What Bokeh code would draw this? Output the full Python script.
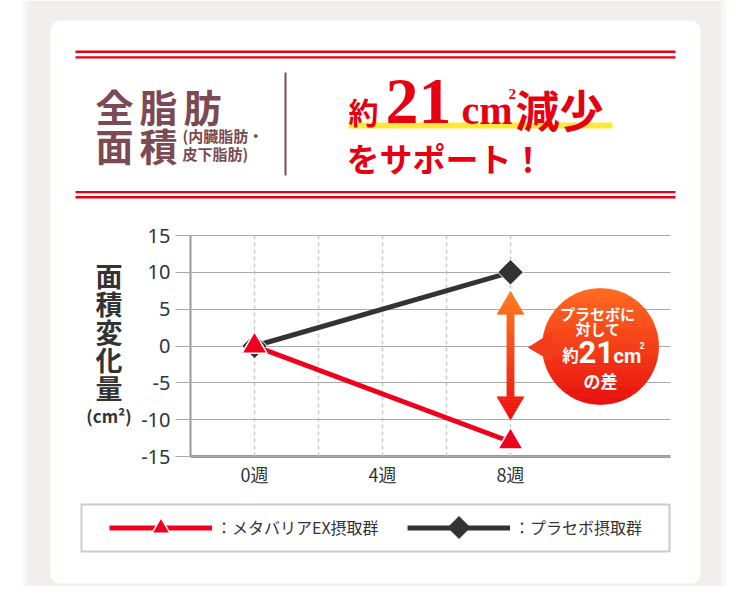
import numpy as np
from bokeh.plotting import figure
from bokeh.models import Range1d, FixedTicker, LinearAxis, Legend, LegendItem, Grid
from bokeh.core.properties import value
from bokeh.embed import file_html
from bokeh.resources import INLINE

# ---------------- data ----------------
weeks = [0, 8]
placebo = [0, 10]
metabarrier = [0, -13]
x_ticks = [0, 4, 8]
x_tick_labels = ["0週", "4週", "8週"]
y_ticks = [-15, -10, -5, 0, 5, 10, 15]
y_tick_labels = ["-15", "-10", "-5", "0", "5", "10", "15"]
series_names = ["：メタバリアEX摂取群", "：プラセボ摂取群"]

# ---------------- style / geometry ----------------
JP = "Noto Sans CJK JP"
RED = "#f0001c"
HRED = "#e60012"
DARK = "#333333"
BROWN = "#7c4a52"
GRAY_BG = "#f2eeeb"

W, H = 734, 586
PX_L, PX_R = 190, 670          # plot area in page pixels
PX_T, PX_B = 235, 456
X_MIN, X_MAX = -2, 13
Y_MIN, Y_MAX = -15, 15
XPX = (PX_R - PX_L) / (X_MAX - X_MIN)
YPX = (PX_B - PX_T) / (Y_MAX - Y_MIN)


def d2x(px):
    return X_MIN + (px - PX_L) / XPX


def d2y(py):
    return Y_MIN + (PX_B - py) / YPX


def hex2rgb(h):
    return tuple(int(h[i:i + 2], 16) for i in (1, 3, 5))


def mix(c0, c1, t):
    a, b = hex2rgb(c0), hex2rgb(c1)
    return "#%02x%02x%02x" % tuple(int(round(a[i] + (b[i] - a[i]) * t)) for i in range(3))


p = figure(width=W, height=H,
           x_range=Range1d(d2x(0), d2x(W)), y_range=Range1d(d2y(H), d2y(0)),
           x_axis_location=None, y_axis_location=None, min_border=0,
           output_backend="svg", toolbar_location=None, title=None)
p.center = [c for c in p.center if not isinstance(c, Grid)]
p.extra_x_ranges = {"px": Range1d(0, W)}
p.extra_y_ranges = {"px": Range1d(H, 0)}
p.outline_line_color = None
p.background_fill_color = "white"
p.border_fill_color = "white"

PXR = dict(x_range_name="px", y_range_name="px")


def pquad(l, r, t, b, color, alpha=1.0, level="glyph"):
    p.quad(left=[l], right=[r], top=[t], bottom=[b], fill_color=color, fill_alpha=alpha,
           line_color=None, level=level, **PXR)


def txt(s, x, y, size, color, font=JP, style="bold", align="left", baseline="middle"):
    p.text(x=[x], y=[y], text=[s], text_font=value(font), text_font_size=value(f"{size}px"),
           text_font_style=style, text_color=color, text_align=align,
           text_baseline=baseline, **PXR)


def rounded_rect(l, r, t, b, rad, n=10):
    xs, ys = [], []
    for cx, cy, a0 in [(r - rad, t + rad, -90), (r - rad, b - rad, 0),
                       (l + rad, b - rad, 90), (l + rad, t + rad, 180)]:
        for a in np.linspace(a0, a0 + 90, n):
            xs.append(cx + rad * np.cos(np.radians(a)))
            ys.append(cy + rad * np.sin(np.radians(a)))
    return xs, ys


# ---------------- page background ----------------
pquad(28, 720, 0, H, GRAY_BG, level="image")
for (l, r, a) in [(22, 25, 0.35), (25, 28, 0.7), (720, 723, 0.7), (723, 726, 0.35)]:
    pquad(l, r, 0, H, GRAY_BG, alpha=a, level="image")
cx_, cy_ = rounded_rect(50, 700, 20, 583, 10)
p.patch(cx_, cy_, fill_color="white", line_color=None, level="image", **PXR)

# ---------------- header ----------------
for (t, b) in [(50, 52.4), (55.7, 58), (190.5, 192.8), (195.6, 198)]:
    pquad(75, 675, t, b, HRED)
pquad(284, 286, 72, 175, BROWN)
pquad(348, 612, 122, 128, "#fde93a")

for i, ch in enumerate("全脂肪"):
    txt(ch, 114 + 44 * i, 104.5, 38, BROWN, align="center")
for i, ch in enumerate("面積"):
    txt(ch, 114 + 44 * i, 143.5, 38, BROWN, align="center")
txt("(内臓脂肪・", 182, 135, 15, BROWN)
txt("皮下脂肪)", 182, 153, 15, BROWN)

txt("約", 363, 110, 30, HRED, align="center")
txt("21", 385, 100.7, 66, HRED, font="Liberation Serif")
txt("cm", 461, 109.5, 40, HRED, font="Liberation Serif")
txt("2", 508, 93, 15, HRED, font="Liberation Serif")
txt("減少", 515, 108, 44, HRED)
txt("をサポート！", 346, 157, 33, HRED)

# y-axis title, stacked vertically
for i, ch in enumerate("面積変化量"):
    txt(ch, 108.5, 275 + 28 * i, 27, DARK, align="center")
txt("(cm²)", 108.5, 415, 17, DARK, align="center")

# ---------------- axes (ticks double as grid lines) ----------------
yax = LinearAxis(fixed_location=X_MIN, bounds=(Y_MIN, Y_MAX), ticker=FixedTicker(ticks=y_ticks))
yax.major_label_overrides = {t: s for t, s in zip(y_ticks, y_tick_labels)}
yax.axis_line_color = "#999999"
yax.axis_line_width = 2
yax.major_tick_in = int(PX_R - PX_L)
yax.major_tick_out = 15
yax.major_tick_line_color = "#aaaaaa"
yax.major_tick_line_width = 1
yax.minor_tick_line_color = None
yax.major_label_standoff = 5
yax.major_label_text_font = "Noto Sans"
yax.major_label_text_font_size = "20px"
yax.major_label_text_color = DARK
yax.level = "underlay"
p.add_layout(yax, "left")

xax = LinearAxis(fixed_location=Y_MIN, bounds=(X_MIN, X_MAX),
                 ticker=FixedTicker(ticks=x_ticks, minor_ticks=[2, 6]))
xax.major_label_overrides = {t: s for t, s in zip(x_ticks, x_tick_labels)}
xax.axis_line_color = "#999999"
xax.axis_line_width = 3
xax.major_tick_in = int(PX_B - PX_T)
xax.major_tick_out = 0
xax.minor_tick_in = int(PX_B - PX_T)
xax.minor_tick_out = 0
for pre in ("major", "minor"):
    setattr(xax, pre + "_tick_line_color", "#cccccc")
    setattr(xax, pre + "_tick_line_dash", "4 3")
    setattr(xax, pre + "_tick_line_width", 1.5)
xax.major_label_standoff = 4
xax.major_label_text_font = JP
xax.major_label_text_font_size = "18px"
xax.major_label_text_color = DARK
xax.level = "underlay"
p.add_layout(xax, "below")

# ---------------- series ----------------
pl_line = p.line(weeks, placebo, line_color=DARK, line_width=5)
pl_pts = p.scatter(weeks, placebo, marker="square", angle=np.pi / 4, size=18,
                   fill_color=DARK, line_color="white", line_width=1)
mb_line = p.line(weeks, metabarrier, line_color=RED, line_width=5)
mb_pts = p.scatter(weeks, metabarrier, marker="triangle", size=25,
                   fill_color=RED, line_color="white", line_width=1.5)

# ---------------- difference arrow (gradient) ----------------
AX = weeks[-1]
yt = placebo[-1] - 19 / YPX
yb = metabarrier[-1] + 22 / YPX
HL = 23 / YPX
HW = 13.5 / XPX
SW = 3.6 / XPX
C_TOP, C_BOT = "#ff7d1f", "#ee0e0e"
axs, ays, acs = [], [], []


def add_band(ya, yb_, wa, wb):
    axs.append([AX - wa, AX - wb, AX + wb, AX + wa])
    ays.append([ya, yb_, yb_, ya])
    t = (yt - (ya + yb_) / 2) / (yt - yb)
    acs.append(mix(C_TOP, C_BOT, t))


n = 8
for i in range(n):
    add_band(yt - HL * i / n, yt - HL * (i + 1) / n, HW * i / n, HW * (i + 1) / n)
n = 16
s0, s1 = yt - HL, yb + HL
for i in range(n):
    add_band(s0 - (s0 - s1) * i / n, s0 - (s0 - s1) * (i + 1) / n, SW, SW)
n = 8
for i in range(n):
    add_band(yb + HL - HL * i / n, yb + HL - HL * (i + 1) / n,
             HW * (1 - i / n), HW * (1 - (i + 1) / n))
p.patches(axs, ays, fill_color=acs, line_color=acs, line_width=0.6)

# ---------------- bubble (gradient) ----------------
BCX, BCY = d2x(600), d2y(346)
R = 58
B_TOP, B_BOT = "#ff6c22", "#e8100e"
bxs, bys, bcs = [], [], []
N = 40
for i in range(N):
    v0 = R - 2 * R * i / N
    v1 = R - 2 * R * (i + 1) / N
    vs = np.linspace(v0, v1, 5)
    hw = np.sqrt(np.clip(R * R - vs * vs, 0, None))
    bxs.append(list(BCX - hw / XPX) + list((BCX + hw / XPX)[::-1]))
    bys.append(list(BCY + vs / YPX) + list((BCY + vs / YPX)[::-1]))
    bcs.append(mix(B_TOP, B_BOT, (i + 0.5) / N))
p.patches(bxs, bys, fill_color=bcs, line_color=bcs, line_width=0.8)
ptr_c = mix(B_TOP, B_BOT, 0.52)
p.patch([BCX - 72 / XPX, BCX - 48 / XPX, BCX - 48 / XPX],
        [BCY - 1 / YPX, BCY + 14 / YPX, BCY - 15 / YPX],
        fill_color=ptr_c, line_color=ptr_c)

txt("プラセボに", 597, 312.5, 15, "white", align="center")
txt("対して", 597.5, 327.5, 15, "white", align="center")
txt("約", 570, 354.5, 16.5, "white", align="center")
txt("21", 578, 351.5, 31, "white", font="Roboto")
txt("cm", 613, 355, 20, "white", font="Roboto")
txt("2", 639, 345, 9, "white", font="Roboto")
txt("の差", 600, 379.5, 17, "white", align="center")

# ---------------- legend ----------------
LEG_X, LEG_Y = 109, 527
GW, GH, STAND, LW, SP = 103, 45, 4, 180, 11
p.quad(left=[81], right=[669], top=[504], bottom=[551], fill_color=None,
       line_color="#cccccc", line_width=2, **PXR)
legend = Legend(items=[LegendItem(label=series_names[0], renderers=[mb_line, mb_pts]),
                       LegendItem(label=series_names[1], renderers=[pl_line])],
                orientation="horizontal",
                location=(LEG_X, H - (LEG_Y - GH / 2) - GH),
                glyph_width=GW, glyph_height=GH, label_standoff=STAND, label_width=LW,
                spacing=SP, padding=0, margin=0,
                border_line_color=None, background_fill_alpha=0,
                label_text_font=JP, label_text_font_size="16px", label_text_color=DARK)
p.add_layout(legend, "center")
# rotated-square sample for the placebo legend entry (legend draws markers unrotated)
p.scatter(x=[LEG_X + GW + STAND + LW + SP + GW / 2], y=[LEG_Y], marker="square",
          angle=np.pi / 4, size=17, fill_color=DARK, line_color="white", line_width=1,
          level="overlay", **PXR)

open("out.html", "w").write(file_html(p, INLINE))
